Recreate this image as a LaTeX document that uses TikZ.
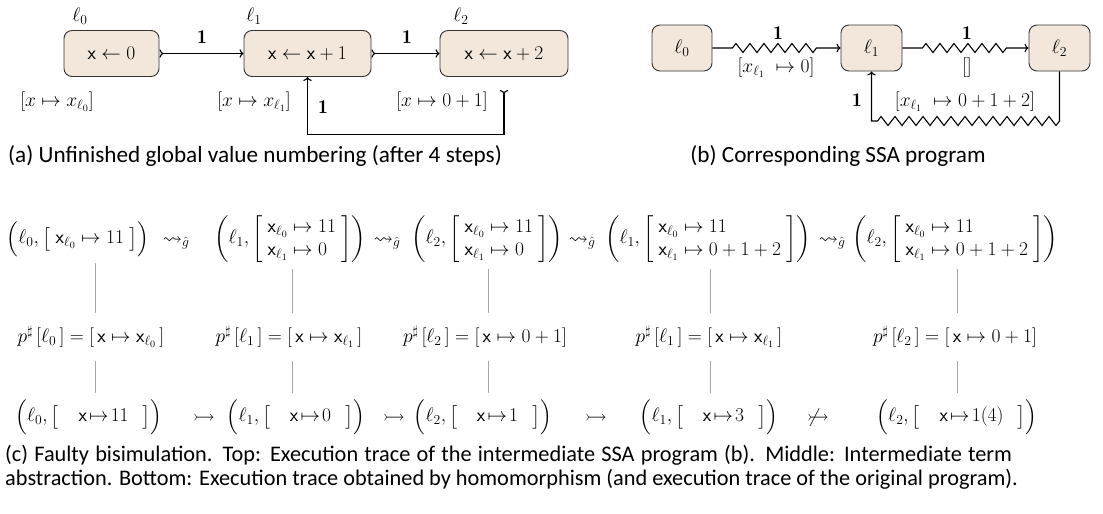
\RequirePackage{fix-cm}
\documentclass[tikz,border=0pt]{standalone}
\usepackage{amsmath,amssymb}
\usepackage{fontspec}
\newfontfamily\capfont{Carlito}
\usetikzlibrary{arrows.meta,decorations.pathmorphing,calc}
\definecolor{boxfill}{HTML}{F2E7DA}
\begin{document}
\begin{tikzpicture}[x=1pt,y=-1pt,font=\fontsize{19.5}{23}\selectfont,
  box/.style={draw=black!80, fill=boxfill, rounded corners=8pt, line width=0.9pt, minimum height=46pt, inner sep=0pt},
  lbl/.style={inner sep=1pt},
  flow/.style={line width=1.1pt, {To[reversed]}-{To}},
  zz/.style={line width=1.1pt, -{To}, decorate, decoration={zigzag, segment length=14pt, amplitude=4.5pt, pre length=20pt, post length=22pt}},
  zzb/.style={decoration={zigzag, segment length=14pt, amplitude=4.5pt}},
  vline/.style={draw=black!35, line width=0.8pt},
  captext/.style={font=\capfont\fontsize{23.2}{23.5}\selectfont, inner sep=0pt},
  captextc/.style={font=\capfont\fontsize{22.3}{23.5}\selectfont, inner sep=0pt},
  term/.style={inner sep=0pt, outer ysep=6.5pt},
  mid/.style={inner sep=0pt, outer ysep=13pt},
  rel/.style={inner sep=0pt, anchor=base},
]
\useasboundingbox (0,0) rectangle (1103,514);

% ---------- (a) ----------
\node[box, minimum width=95pt]  (a0) at (111.5,53.5) {$\mathsf{x}\leftarrow 0$};
\node[box, minimum width=127pt] (a1) at (307.5,53.5) {$\mathsf{x}\leftarrow\mathsf{x}+1$};
\node[box, minimum width=128pt] (a2) at (504,53.5)   {$\mathsf{x}\leftarrow\mathsf{x}+2$};
\node[lbl] (la0) at (80,16)  {$\ell_0$};
\node[lbl] (la1) at (254,16) {$\ell_1$};
\node[lbl] (la2) at (461,16) {$\ell_2$};
\draw[flow] (a0) -- (a1);
\draw[flow] (a1) -- (a2);
\draw[flow, shorten <=13pt] (a2.south) -- ++(0,57.5) -| (a1.south);
\node[lbl] (wa0) at (202,37.5) {$\mathbf{1}$};
\node[lbl] (wa1) at (407,37.5) {$\mathbf{1}$};
\node[lbl] (wa2) at (323,107)  {$\mathbf{1}$};
\node[lbl] (sa0) at (57,102)  {$[x\mapsto x_{\ell_0}]$};
\node[lbl] (sa1) at (254,102) {$[x\mapsto x_{\ell_1}]$};
\node[lbl] (sa2) at (442,102) {$[x\mapsto 0+1]$};

% ---------- (b) ----------
\node[box, minimum width=60pt] (b0) at (682,48)    {$\ell_0$};
\node[box, minimum width=61pt] (b1) at (871.5,48)  {$\ell_1$};
\node[box, minimum width=61pt] (b2) at (1059.5,48) {$\ell_2$};
\coordinate (bz) at (0,121);
\draw[zz] (b0) -- (b1);
\draw[zz] (b1) -- (b2);
\draw[line width=1.1pt, -{To}] (b2.south) -- (b2.south |- bz) decorate[zzb]{ -- (b1.south |- bz) } -- (b1.south);
\node[lbl] (wb0) at (778,33)  {$\mathbf{1}$};
\node[lbl] (wb1) at (967,33)  {$\mathbf{1}$};
\node[lbl] (wb2) at (857,100) {$\mathbf{1}$};
\node[lbl] (sb0) at (776,68)  {$[x_{\ell_1}\;\mapsto 0]$};
\node[lbl] (sb1) at (967,68)  {$[]$};
\node[lbl] (sb2) at (965,102) {$[x_{\ell_1}\;\mapsto 0+1+2]$};

% ---------- captions a, b ----------
\node[captext, anchor=base west] (capa) at (8,162.5) {(a) Unfinished global value numbering (after 4 steps)};
\node[captext, anchor=base] (capb) at (838,162.5) {(b) Corresponding SSA program};

% ---------- (c) ----------
\coordinate (c0) at (95,0);
\coordinate (c1) at (292,0);
\coordinate (c2) at (488,0);
\coordinate (c3) at (710,0);
\coordinate (c4) at (957,0);

\node[term] (t0) at (78,239) {$\Bigl(\ell_0,\bigl[\;\mathsf{x}_{\ell_0}\mapsto 11\;\bigr]\Bigr)$};
\node[term] (t1) at (290,239) {$\left(\ell_1,\left[\begin{array}{l}\mathsf{x}_{\ell_0}\mapsto 11\\ \mathsf{x}_{\ell_1}\mapsto 0\end{array}\right]\right)$};
\node[term] (t2) at (487,239) {$\left(\ell_2,\left[\begin{array}{l}\mathsf{x}_{\ell_0}\mapsto 11\\ \mathsf{x}_{\ell_1}\mapsto 0\end{array}\right]\right)$};
\node[term] (t3) at (708,239) {$\left(\ell_1,\left[\begin{array}{l}\mathsf{x}_{\ell_0}\mapsto 11\\ \mathsf{x}_{\ell_1}\mapsto 0+1+2\end{array}\right]\right)$};
\node[term] (t4) at (955,239) {$\left(\ell_2,\left[\begin{array}{l}\mathsf{x}_{\ell_0}\mapsto 11\\ \mathsf{x}_{\ell_1}\mapsto 0+1+2\end{array}\right]\right)$};
\node[rel] (r1) at (176,244) {$\rightsquigarrow_{\hat{g}}$};
\node[rel] (r2) at (387,244) {$\rightsquigarrow_{\hat{g}}$};
\node[rel] (r3) at (582,244) {$\rightsquigarrow_{\hat{g}}$};
\node[rel] (r4) at (832,244) {$\rightsquigarrow_{\hat{g}}$};

\node[mid] (m0) at (91,337)  {$p^{\sharp}\,[\ell_0\,] = [\,\mathsf{x}\mapsto\mathsf{x}_{\ell_0}\,]$};
\node[mid] (m1) at (289,337) {$p^{\sharp}\,[\ell_1\,] = [\,\mathsf{x}\mapsto\mathsf{x}_{\ell_1}\,]$};
\node[mid] (m2) at (485,337) {$p^{\sharp}\,[\ell_2\,] = [\,\mathsf{x}\mapsto 0+1]$};
\node[mid] (m3) at (709,337) {$p^{\sharp}\,[\ell_1\,] = [\,\mathsf{x}\mapsto\mathsf{x}_{\ell_1}\,]$};
\node[mid] (m4) at (955,337) {$p^{\sharp}\,[\ell_2\,] = [\,\mathsf{x}\mapsto 0+1]$};

\node[term] (u0) at (89,417)  {$\Bigl(\ell_0,\bigl[\quad\mathsf{x}\!\mapsto\! 11\;\;\,\bigr]\Bigr)$};
\node[term] (u1) at (296,417) {$\Bigl(\ell_1,\bigl[\quad\mathsf{x}\!\mapsto\! 0\;\;\,\bigr]\Bigr)$};
\node[term] (u2) at (483,417) {$\Bigl(\ell_2,\bigl[\quad\mathsf{x}\!\mapsto\! 1\;\;\,\bigr]\Bigr)$};
\node[term] (u3) at (709,417) {$\Bigl(\ell_1,\bigl[\quad\mathsf{x}\!\mapsto\! 3\;\;\,\bigr]\Bigr)$};
\node[term] (u4) at (957,417) {$\Bigl(\ell_2,\bigl[\quad\mathsf{x}\!\mapsto\! 1(4)\;\;\,\bigr]\Bigr)$};
\node[rel] (s1) at (204,422) {$\rightarrowtail$};
\node[rel] (s2) at (394,422) {$\rightarrowtail$};
\node[rel] (s3) at (596,422) {$\rightarrowtail$};
\node[rel] (s4) at (818,422) {$\not\rightarrowtail$};

\foreach \i in {0,...,4}{
  \draw[vline] (t\i.south -| c\i) -- (m\i.north -| c\i);
  \draw[vline] (m\i.south -| c\i) -- (u\i.north -| c\i);
}

\node[captextc, anchor=base west] (capc1) at (5,461.5) {\makebox[1007pt][s]{(c) Faulty bisimulation. Top: Execution trace of the intermediate SSA program (b). Middle: Intermediate term}};
\node[captextc, anchor=base west] (capc2) at (5,485) {abstraction. Bottom: Execution trace obtained by homomorphism (and execution trace of the original program).};
\end{tikzpicture}
\end{document}
